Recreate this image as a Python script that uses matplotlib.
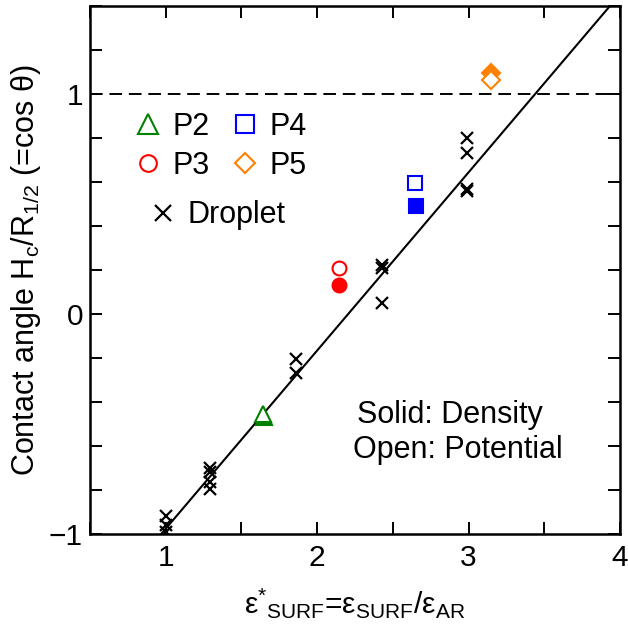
import numpy as np
import matplotlib
matplotlib.use("Agg")
from matplotlib import pyplot as plt
from matplotlib.lines import Line2D
from matplotlib.ticker import MultipleLocator, FuncFormatter

plt.rcParams['font.family'] = ['Liberation Sans', 'DejaVu Sans']
plt.rcParams['mathtext.fontset'] = 'custom'
plt.rcParams['mathtext.rm'] = 'Liberation Sans'
plt.rcParams['mathtext.it'] = 'Liberation Sans:italic'

# droplet simulations (crosses)
drop_x = [1.0, 1.0, 1.0, 1.29, 1.29, 1.29, 1.29, 1.86, 1.86,
          2.43, 2.43, 2.43, 2.99, 2.99, 2.99, 2.99]
drop_y = [-0.92, -0.96, -0.99, -0.70, -0.72, -0.765, -0.795, -0.205, -0.27,
          0.225, 0.208, 0.048, 0.80, 0.73, 0.57, 0.56]

# flat surface estimates: (density, potential) per case
case_names = ["P2", "P3", "P4", "P5"]
case_colors = ["#008000", "#ff0000", "#0000ff", "#ff8000"]
case_markers = ["^", "o", "s", "D"]
density_x = [1.65, 2.145, 2.655, 3.15]
density_y = [-0.47, 0.133, 0.493, 1.095]
potential_x = [1.64, 2.145, 2.646, 3.15]
potential_y = [-0.455, 0.211, 0.595, 1.062]
data_msize = [11, 10, 10.5, 9]
legend_msize = [14.5, 12, 13.5, 10.5]

# linear fit of the droplet data
fit_slope = 0.81
fit_icept = -1.786

fig = plt.figure(figsize=(6.28, 6.25), dpi=100)
ax = fig.add_axes([0.1433, 0.1456, 0.844, 0.8448])

ax.set_xlim(0.5, 4)
ax.set_ylim(-1, 1.4)

xs = np.array(ax.get_xlim())
ax.plot(xs, fit_slope*xs + fit_icept, color='black', lw=1.5, zorder=2)
ax.axhline(1.0, color='black', lw=1.4, ls=(0, (6.5, 3.5)), zorder=1)

ax.plot(drop_x, drop_y, 'x', color='black', ms=9, mew=1.6, zorder=3)

for i in range(len(case_names)):
    c = case_colors[i]
    ax.plot(density_x[i], density_y[i], case_markers[i], color=c, mec=c,
            ms=data_msize[i], mew=1.5, zorder=4)
    ax.plot(potential_x[i], potential_y[i], case_markers[i], mfc='white', mec=c,
            ms=data_msize[i], mew=1.5, zorder=4)

handles = [Line2D([], [], ls='none', marker=case_markers[i], mfc='white',
                  mec=case_colors[i], ms=legend_msize[i], mew=1.5)
           for i in range(len(case_names))]
leg = ax.legend(handles, case_names, ncol=2, loc='upper left',
                bbox_to_anchor=(0.081, 0.80), frameon=False, fontsize=22,
                handlelength=1.0, handletextpad=0.3, columnspacing=0.65,
                labelspacing=0.3, borderpad=0, borderaxespad=0)
ax.add_artist(leg)
drop_handle = Line2D([], [], ls='none', marker='x', color='black', ms=11.5, mew=1.6)
ax.legend([drop_handle], ["Droplet"], loc='upper left',
          bbox_to_anchor=(0.109, 0.632), frameon=False, fontsize=22,
          handlelength=1.0, handletextpad=0.3, borderpad=0, borderaxespad=0)

ax.text(0.504, 0.210, "Solid: Density", transform=ax.transAxes,
        fontsize=22, va='baseline', ha='left')
ax.text(0.496, 0.144, "Open: Potential", transform=ax.transAxes,
        fontsize=22, va='baseline', ha='left')

ax.xaxis.set_major_locator(MultipleLocator(1))
ax.xaxis.set_minor_locator(MultipleLocator(0.5))
ax.yaxis.set_major_locator(MultipleLocator(1))
ax.yaxis.set_minor_locator(MultipleLocator(0.2))
ax.yaxis.set_major_formatter(FuncFormatter(lambda v, p: f"{v:.0f}".replace("-", "\u2212")))
ax.tick_params(which='both', direction='in', top=True, right=True,
               length=8.5, width=1.4, labelsize=21.5)
ax.tick_params(axis='x', pad=7)
ax.tick_params(axis='y', pad=5)
for sp in ax.spines.values():
    sp.set_linewidth(1.8)

ax.set_xlabel("ε$^{*}{}_{\\mathrm{SURF}}$=ε$_{\\mathrm{SURF}}$/ε$_{\\mathrm{AR}}$",
              fontsize=21.5, labelpad=10)
ax.set_ylabel("Contact angle H$_{\\mathrm{c}}$/R$_{1/2}$ (=cos θ)", fontsize=22,
              labelpad=4)

fig.savefig("out.png", dpi=100)
